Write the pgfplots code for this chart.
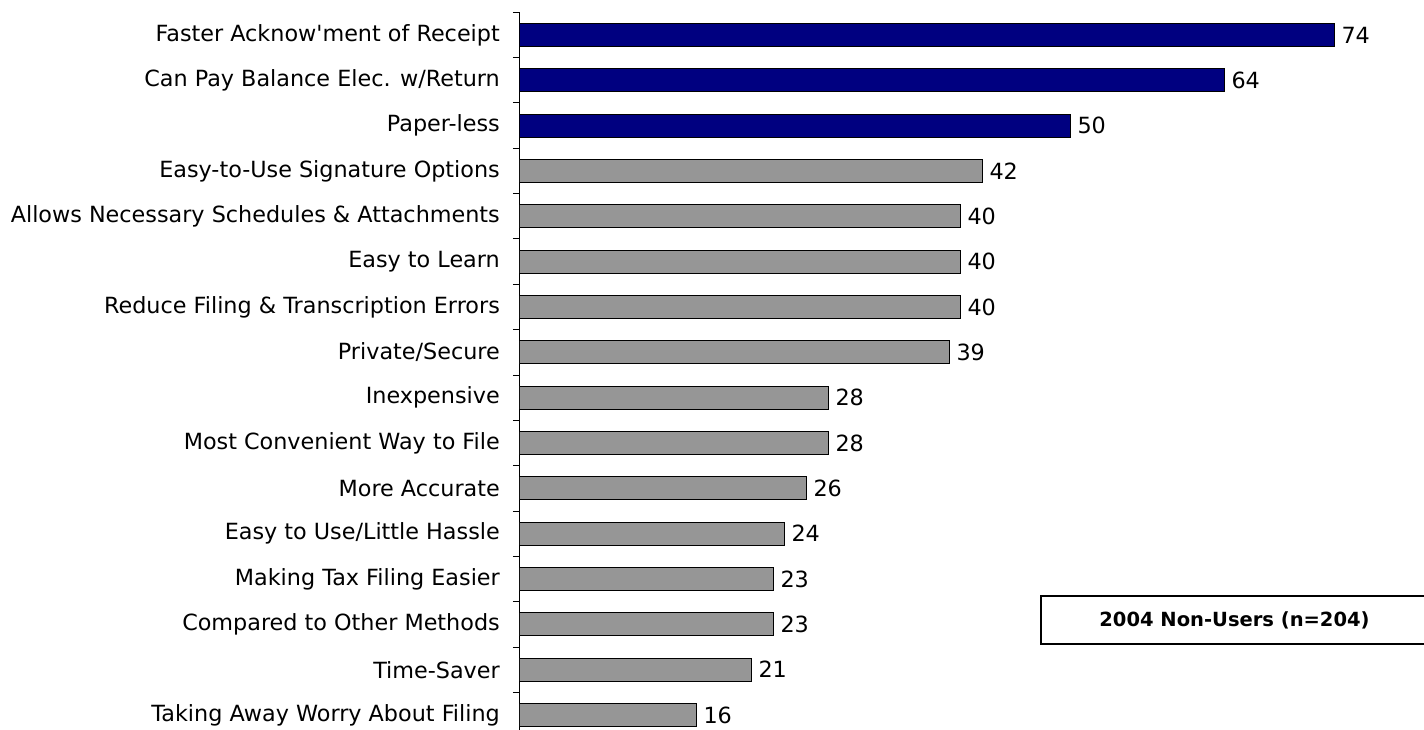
\documentclass[border=0pt]{standalone}
\usepackage{pgfplots}
\pgfplotsset{compat=1.18}
\usepackage{fontspec}
\setmainfont{DejaVu Sans}
\definecolor{navybar}{RGB}{0,0,128}
\definecolor{graybar}{RGB}{150,150,150}
\begin{document}
\begin{tikzpicture}[x=1pt,y=1pt]
\begin{axis}[
  at={(520pt,-12.3pt)}, anchor=north west,
  scale only axis, width=880pt, height=725.4pt,
  xmin=0, xmax=80, ymin=-0.5, ymax=15.5, y dir=reverse,
  axis x line=none, axis y line*=left,
  y axis line style={-, line width=1pt},
  /pgf/number format/assume math mode=true,
  ytick={0,...,15},
  yticklabels={Faster Acknow\textquotesingle ment of Receipt, Can Pay Balance Elec. w/Return, Paper-less, Easy-to-Use Signature Options, Allows Necessary Schedules \& Attachments, Easy to Learn, Reduce Filing \& Transcription Errors, Private/Secure, Inexpensive, Most Convenient Way to File, More Accurate, Easy to Use/Little Hassle, Making Tax Filing Easier, Compared to Other Methods, Time-Saver, Taking Away Worry About Filing},
  major y tick style={draw=none},
  tick align=outside, major tick length=7pt,
  extra y ticks={-0.5,0.5,...,15.5},
  extra y tick labels={},
  extra y tick style={major y tick style={draw=black, line width=1pt}},
  y tick label style={font=\fontsize{22.3}{26}\selectfont, inner sep=0pt, xshift=-13pt, anchor=east},
  xbar, bar width=23pt, bar shift=0pt,
  nodes near coords,
  every node near coord/.append style={font=\fontsize{22.3}{26}\selectfont, inner sep=0pt, anchor=west, xshift=7pt, text=black},
]
\addplot[draw=black, line width=1pt, fill=navybar] coordinates {(74,0) (64,1) (50,2)};
\addplot[draw=black, line width=1pt, fill=graybar] coordinates {(42,3) (40,4) (40,5) (40,6) (39,7) (28,8) (28,9) (26,10) (24,11) (23,12) (23,13) (21,14) (16,15)};
\end{axis}
\node[draw=black, line width=2pt, minimum width=387pt, minimum height=48pt, inner sep=0pt, font=\bfseries\fontsize{19.5}{22}\selectfont] at (1234.5,-620) {2004 Non-Users (n=204)};
\pgfresetboundingbox
\path[use as bounding box] (0,0) rectangle (1424,-730);
\end{tikzpicture}
\end{document}
